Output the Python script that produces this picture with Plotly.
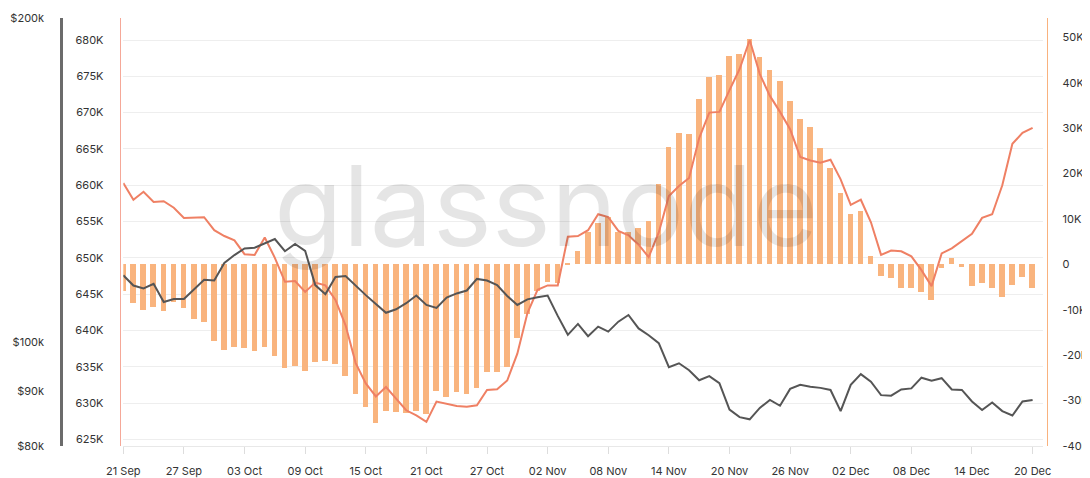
import pandas as pd
import plotly.graph_objects as go

dates = pd.date_range("2025-09-21", periods=91, freq="D")

# Supply-like metric (left linear axis, in units)
supply = [
    660.3, 658.0, 659.1, 657.7, 657.8, 656.9, 655.5, 655.5, 655.6, 653.8,
    653.0, 652.4, 650.5, 650.4, 652.8, 650.0, 646.7, 646.8, 645.3, 646.6,
    646.2, 644.2, 640.7, 635.5, 632.7, 630.9, 632.2, 630.6, 629.0, 628.3,
    627.4, 630.2, 629.9, 629.6, 629.5, 629.7, 631.8, 631.9, 633.1, 636.8,
    642.4, 645.6, 646.2, 646.2, 652.9, 653.0, 653.8, 656.0, 655.6, 653.7,
    653.1, 651.8, 650.1, 653.5, 658.5, 659.9, 661.0, 666.5, 670.0, 670.1,
    673.1, 676.0, 680.0, 675.3, 672.3, 670.1, 667.7, 663.9, 663.4, 663.1,
    663.5, 660.8, 657.3, 658.0, 654.9, 650.4, 651.0, 650.9, 650.2, 648.3,
    646.1, 650.6, 651.3, 652.3, 653.3, 655.5, 656.0, 660.0, 665.7, 667.2,
    667.9,
]
supply = [v * 1000 for v in supply]

# 30d net change (bars, right axis)
change = [
    -5.8, -8.5, -10.0, -9.3, -10.2, -8.2, -9.7, -12.0, -12.7, -16.8,
    -18.9, -18.2, -18.5, -19.2, -18.3, -20.2, -22.9, -22.3, -23.5, -21.5,
    -21.2, -21.9, -24.5, -28.6, -31.5, -35.0, -32.3, -32.5, -32.8, -32.3,
    -33.0, -27.8, -29.3, -28.2, -28.5, -27.3, -23.8, -23.8, -22.7, -16.3,
    -10.9, -5.9, -3.8, -4.2, 0.3, 3.0, 7.1, 9.2, 10.4, 7.1,
    7.1, 7.9, 9.5, 17.7, 25.8, 29.0, 28.7, 36.5, 41.2, 41.7,
    45.9, 46.3, 49.6, 45.7, 42.8, 40.4, 35.9, 32.0, 30.2, 25.6,
    21.3, 15.6, 11.0, 11.7, 1.8, -2.6, -3.0, -5.2, -5.3, -6.0,
    -7.9, -0.9, 1.3, -0.5, -4.8, -4.2, -5.2, -7.1, -4.6, -2.7,
    -5.3,
]
change = [v * 1000 for v in change]

# BTC price (log axis), in $k
price = [
    115.3, 112.8, 112.1, 113.2, 108.9, 109.6, 109.6, 112.0, 114.2, 114.0,
    118.4, 120.4, 122.1, 122.3, 123.5, 124.6, 121.4, 123.3, 121.5, 112.9,
    110.7, 114.9, 115.1, 112.7, 110.5, 108.4, 106.4, 107.2, 108.6, 110.4,
    108.2, 107.5, 109.9, 110.9, 111.6, 114.4, 114.0, 112.9, 110.3, 108.2,
    109.5, 110.0, 110.4, 105.7, 101.5, 103.9, 101.2, 103.3, 102.2, 104.4,
    105.9, 102.9, 101.4, 99.7, 94.7, 95.5, 94.1, 92.1, 92.9, 91.5,
    86.5, 85.1, 84.7, 86.8, 88.3, 87.2, 90.4, 91.2, 90.8, 90.6,
    90.2, 86.2, 91.2, 93.3, 91.8, 89.2, 89.1, 90.3, 90.5, 92.6,
    92.0, 92.5, 90.3, 90.2, 88.0, 86.4, 87.8, 86.2, 85.4, 88.0,
    88.3,
]
price = [v * 1000 for v in price]

supply_ticks = list(range(625000, 680001, 5000))
supply_text = [f"{v // 1000}K" for v in supply_ticks]
change_ticks = list(range(-40000, 50001, 10000))
change_text = ["0" if v == 0 else f"{v // 1000}K" for v in change_ticks]
price_ticks = [80000, 90000, 100000, 200000]
price_text = ["$80k", "$90k", "$100k", "$200k"]

# The page body has an 8px margin: size the figure so it fills the window
OFF = 8
W, H = 1090 - OFF, 478 - OFF


def fx(s):
    return (s - OFF) / W


def fy(s):
    return 1 - (s - OFF) / H


dom_y = [fy(446), fy(18)]
tickfont = dict(family="Inter", size=11, color="#333333")

fig = go.Figure()
fig.add_trace(go.Bar(
    x=dates, y=change, yaxis="y", marker=dict(color="#F9B47E", line=dict(width=0)),
    width=0.56 * 86400000, showlegend=False,
))
fig.add_trace(go.Scatter(
    x=dates, y=price, yaxis="y3", mode="lines",
    line=dict(color="#555555", width=2), showlegend=False,
))
fig.add_trace(go.Scatter(
    x=dates, y=supply, yaxis="y2", mode="lines",
    line=dict(color="#EF8064", width=2), showlegend=False,
))

fig.update_layout(
    width=W, height=H,
    margin=dict(l=0, r=0, t=0, b=0, autoexpand=False),
    paper_bgcolor="white", plot_bgcolor="white",
    bargap=0,
    xaxis=dict(
        domain=[fx(123.3), fx(1042.7)],
        range=["2025-09-21", "2025-12-21"],
        tick0="2025-09-21", dtick=6 * 86400000, tickformat="%d %b",
        ticks="outside", ticklen=7, tickcolor="#dddddd",
        ticklabelstandoff=8,
        showline=True, linecolor="#e8e8e8", linewidth=1,
        showgrid=False, zeroline=False, tickfont=tickfont,
        anchor="y", automargin=False,
    ),
    yaxis=dict(
        domain=dom_y, range=[-40020, 54250], side="right",
        anchor="free", position=fx(1047.3),
        showgrid=False, zeroline=False,
        showline=True, linecolor="#F9B27E", linewidth=1,
        tickvals=change_ticks, ticktext=change_text,
        ticks="outside", ticklen=12, tickcolor="rgba(0,0,0,0)",
        tickfont=tickfont, automargin=False,
    ),
    yaxis2=dict(
        domain=dom_y, range=[624080, 683030], side="left",
        overlaying="y", anchor="free", position=fx(119.7),
        showgrid=True, gridcolor="#eeeeee", gridwidth=1, zeroline=False,
        showline=True, linecolor="#F5A898", linewidth=1,
        tickvals=supply_ticks, ticktext=supply_text,
        ticks="outside", ticklen=14, tickcolor="rgba(0,0,0,0)",
        tickfont=tickfont, automargin=False,
    ),
    yaxis3=dict(
        domain=dom_y, type="log", range=[4.90309, 5.30103], side="left",
        overlaying="y", anchor="free", position=fx(61),
        showgrid=False, zeroline=False,
        showline=True, linecolor="#6b6b6b", linewidth=2.5,
        tickvals=price_ticks, ticktext=price_text,
        ticks="outside", ticklen=14, tickcolor="rgba(0,0,0,0)",
        tickfont=tickfont, automargin=False,
    ),
    annotations=[dict(
        text="glassnode", x=fx(546), y=fy(205), xref="paper", yref="paper",
        xanchor="center", yanchor="middle", showarrow=False,
        font=dict(family="Inter", size=112, color="rgba(0,0,0,0.1)"),
    )],
)

fig.write_html("out.html")
